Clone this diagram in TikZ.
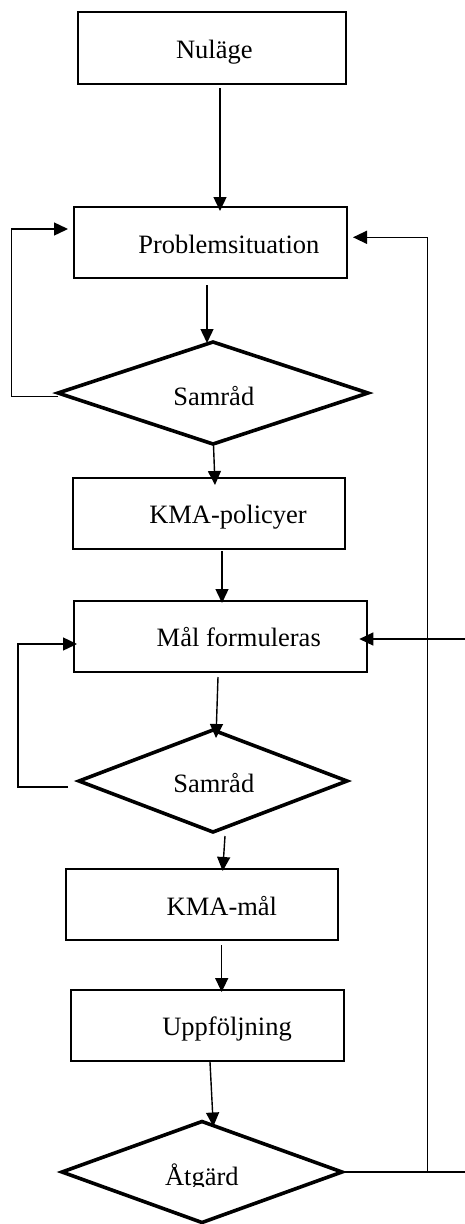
\documentclass[tikz,border=0pt]{standalone}
\usepackage{fontspec}
\setmainfont{Liberation Serif}
\usetikzlibrary{arrows.meta,shapes.geometric,calc}

\tikzset{
  box/.style={draw, line width=2.2pt, rectangle, inner sep=0pt, outer sep=0pt},
  decision/.style={draw, line width=3.6pt, diamond, inner sep=0pt, outer sep=0pt,
                   line join=miter},
  label/.style={anchor=base west, inner sep=0pt, outer sep=0pt,
                font=\fontsize{26.5}{31}\selectfont},
  conn/.style={line width=1.4pt, -{Triangle[length=14pt,width=13pt]}},
  wire/.style={line width=1.4pt}
}

\begin{document}
\begin{tikzpicture}[x=1pt, y=-1pt]
  \useasboundingbox (0,0) rectangle (465,1224);

  % process boxes
  \node[box, minimum width=268pt, minimum height=72pt] (nul)  at (212,48)     {};
  \node[box, minimum width=273pt, minimum height=71pt] (prob) at (210.5,242.5) {};
  \node[box, minimum width=272pt, minimum height=71pt] (pol)  at (209,513.5)  {};
  \node[box, minimum width=293pt, minimum height=71pt] (mal)  at (220.5,636.5) {};
  \node[box, minimum width=272pt, minimum height=71pt] (kmam) at (202,904.5)  {};
  \node[box, minimum width=273pt, minimum height=71pt] (upp)  at (207.5,1025.5) {};

  % decisions
  \node[decision, minimum width=310pt, minimum height=102pt] (sam1) at (213,393)  {};
  \node[decision, minimum width=268pt, minimum height=102pt] (sam2) at (213,781)  {};
  \node[decision, minimum width=280pt, minimum height=101pt] (atg)  at (202,1172) {};

  % texts
  \node[label] (tnul)  at (176,58.3)    {Nuläge};
  \node[label] (tprob) at (138.3,253.3) {Problemsituation};
  \node[label] (tsam1) at (173.3,405)   {Samråd};
  \node[label] (tpol)  at (149.3,523.3) {KMA-policyer};
  \node[label] (tmal)  at (156.7,646.7) {Mål formuleras};
  \node[label] (tsam2) at (173.3,792.3) {Samråd};
  \node[label] (tkmam) at (166.7,915)   {KMA-mål};
  \node[label] (tupp)  at (162.3,1035)  {Uppföljning};
  \begin{scope}
    \clip (0,0) rectangle (465,1186.8);
    \node[label] (tatg) at (165,1185.7) {Åtgärd};
  \end{scope}

  % main flow
  \draw[conn] ($(nul.south)+(8,4)$)     -- ($(prob.north)+(9.5,4)$);
  \draw[conn] ($(prob.south)+(-3.5,7)$) -- ($(sam1.north)+(-6,1)$);
  \draw[conn] ($(sam1.south)+(0.5,1)$)  -- ($(pol.north)+(6,7)$);
  \draw[conn] ($(pol.south)+(13,2)$)    -- ($(mal.north)+(1.5,2)$);
  \draw[conn] ($(mal.south)+(-2.5,5)$)  -- ($(sam2.north)+(3,8)$);
  \draw[conn] ($(sam2.south)+(12,4)$)   -- ($(kmam.north)+(20.7,2)$);
  \draw[conn] ($(kmam.south)+(19.7,5)$) -- ($(upp.north)+(14.2,2)$);
  \draw[conn] ($(upp.south)+(2.5,1)$)   -- ($(atg.north)+(11.3,5)$);

  % feedback loops on the left
  \draw[conn] ($(sam1.west)+(0,3.5)$) -- ++(-46.3,0) |- ($(prob.west)+(-6,-13.5)$);
  \draw[conn] ($(sam2.west)+(-11,6)$) -- ++(-50,0)   |- ($(mal.west)+(3,7.5)$);

  % return path on the right
  \coordinate (exitR)  at (465,1172);
  \coordinate (entryR) at (465,639);
  \draw[conn] (atg.east) -- ++(85.7,0) |- ($(prob.east)+(6,-5.2)$);
  \draw[wire] (atg.east) -- (exitR);
  \draw[conn] (entryR) -- ($(mal.east)+(-7.7,2.5)$);
\end{tikzpicture}
\end{document}
